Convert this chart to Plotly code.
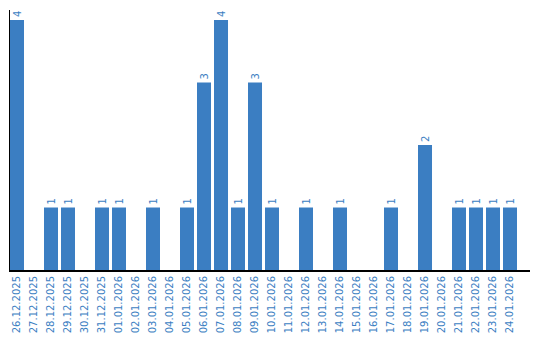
import plotly.graph_objects as go

dates = ["26.12.2025", "27.12.2025", "28.12.2025", "29.12.2025", "30.12.2025",
         "31.12.2025", "01.01.2026", "02.01.2026", "03.01.2026", "04.01.2026",
         "05.01.2026", "06.01.2026", "07.01.2026", "08.01.2026", "09.01.2026",
         "10.01.2026", "11.01.2026", "12.01.2026", "13.01.2026", "14.01.2026",
         "15.01.2026", "16.01.2026", "17.01.2026", "18.01.2026", "19.01.2026",
         "20.01.2026", "21.01.2026", "22.01.2026", "23.01.2026", "24.01.2026"]
counts = [4, 0, 1, 1, 0, 1, 1, 0, 1, 0,
          1, 3, 4, 1, 3, 1, 0, 1, 0, 1,
          0, 0, 1, 0, 2, 0, 1, 1, 1, 1]

blue = "#3b7ec2"
xs = list(range(len(dates)))
labels = [str(v) if v else "" for v in counts]

fig = go.Figure(go.Bar(
    x=xs, y=counts, marker_color=blue, marker_line_width=0,
    text=labels, textposition="outside", textangle=-90,
    textfont=dict(color=blue, size=10, family="DejaVu Sans"),
    cliponaxis=False, hoverinfo="skip",
))
fig.update_layout(
    width=540, height=340,
    margin=dict(l=10, r=10, t=10, b=70, autoexpand=False),
    paper_bgcolor="white", plot_bgcolor="white",
    bargap=0.176, showlegend=False,
    font=dict(family="DejaVu Sans", color=blue),
)
fig.update_xaxes(
    range=[-0.4118, 30.176], tickmode="array", tickvals=xs, ticktext=dates,
    tickangle=-90, tickfont=dict(size=10, color=blue, family="DejaVu Sans"),
    showline=True, linecolor="black", linewidth=2, showgrid=False, ticks="",
    zeroline=False, automargin=False,
)
fig.update_yaxes(
    range=[0, 4.16], showline=True, linecolor="black", linewidth=1,
    showgrid=False, showticklabels=False, ticks="", zeroline=False,
    automargin=False,
)
fig.write_html("out.html")
